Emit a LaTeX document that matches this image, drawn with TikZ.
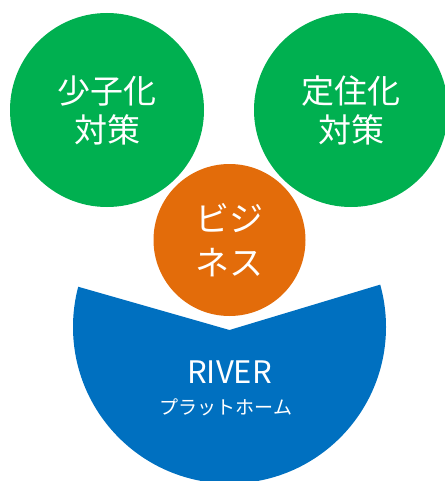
\documentclass[tikz,border=0pt]{standalone}
\usepackage{fontspec}
\setmainfont{Noto Sans CJK JP}
\definecolor{cgreen}{HTML}{00B050}
\definecolor{corange}{HTML}{E36C0A}
\definecolor{cblue}{HTML}{0070C0}
\begin{document}
\begin{tikzpicture}[x=1pt,y=-1pt,
  bubble/.style={circle,inner sep=0pt,text=white,align=center},
  bigtxt/.style={font=\fontsize{33}{39}\selectfont}]
\useasboundingbox (0,0) rectangle (444,481);
\begin{scope}
\clip (0,264.4) -- (229.5,330) -- (444,265.4) -- (444,481) -- (0,481) -- cycle;
\fill[cblue] (229.5,327) circle[radius=156.5];
\end{scope}
\node[bubble,fill=cgreen,minimum size=194pt,bigtxt] (shoshi) at (107,110) {少子化\\対策};
\node[bubble,fill=cgreen,minimum size=194pt,bigtxt] (teiju) at (351,110) {定住化\\対策};
\node[bubble,fill=corange,minimum size=152pt,font=\fontsize{34}{44}\selectfont] (biz) at (229.5,240) {ビジ\\ネス};
\node[text=white,font=\fontsize{31}{31}\selectfont,inner sep=0pt] (river) at (229.5,372) {RIVER};
\node[text=white,font=\fontsize{19}{19}\selectfont,inner sep=0pt] (plat) at (226,407) {プラットホーム};
\end{tikzpicture}
\end{document}
